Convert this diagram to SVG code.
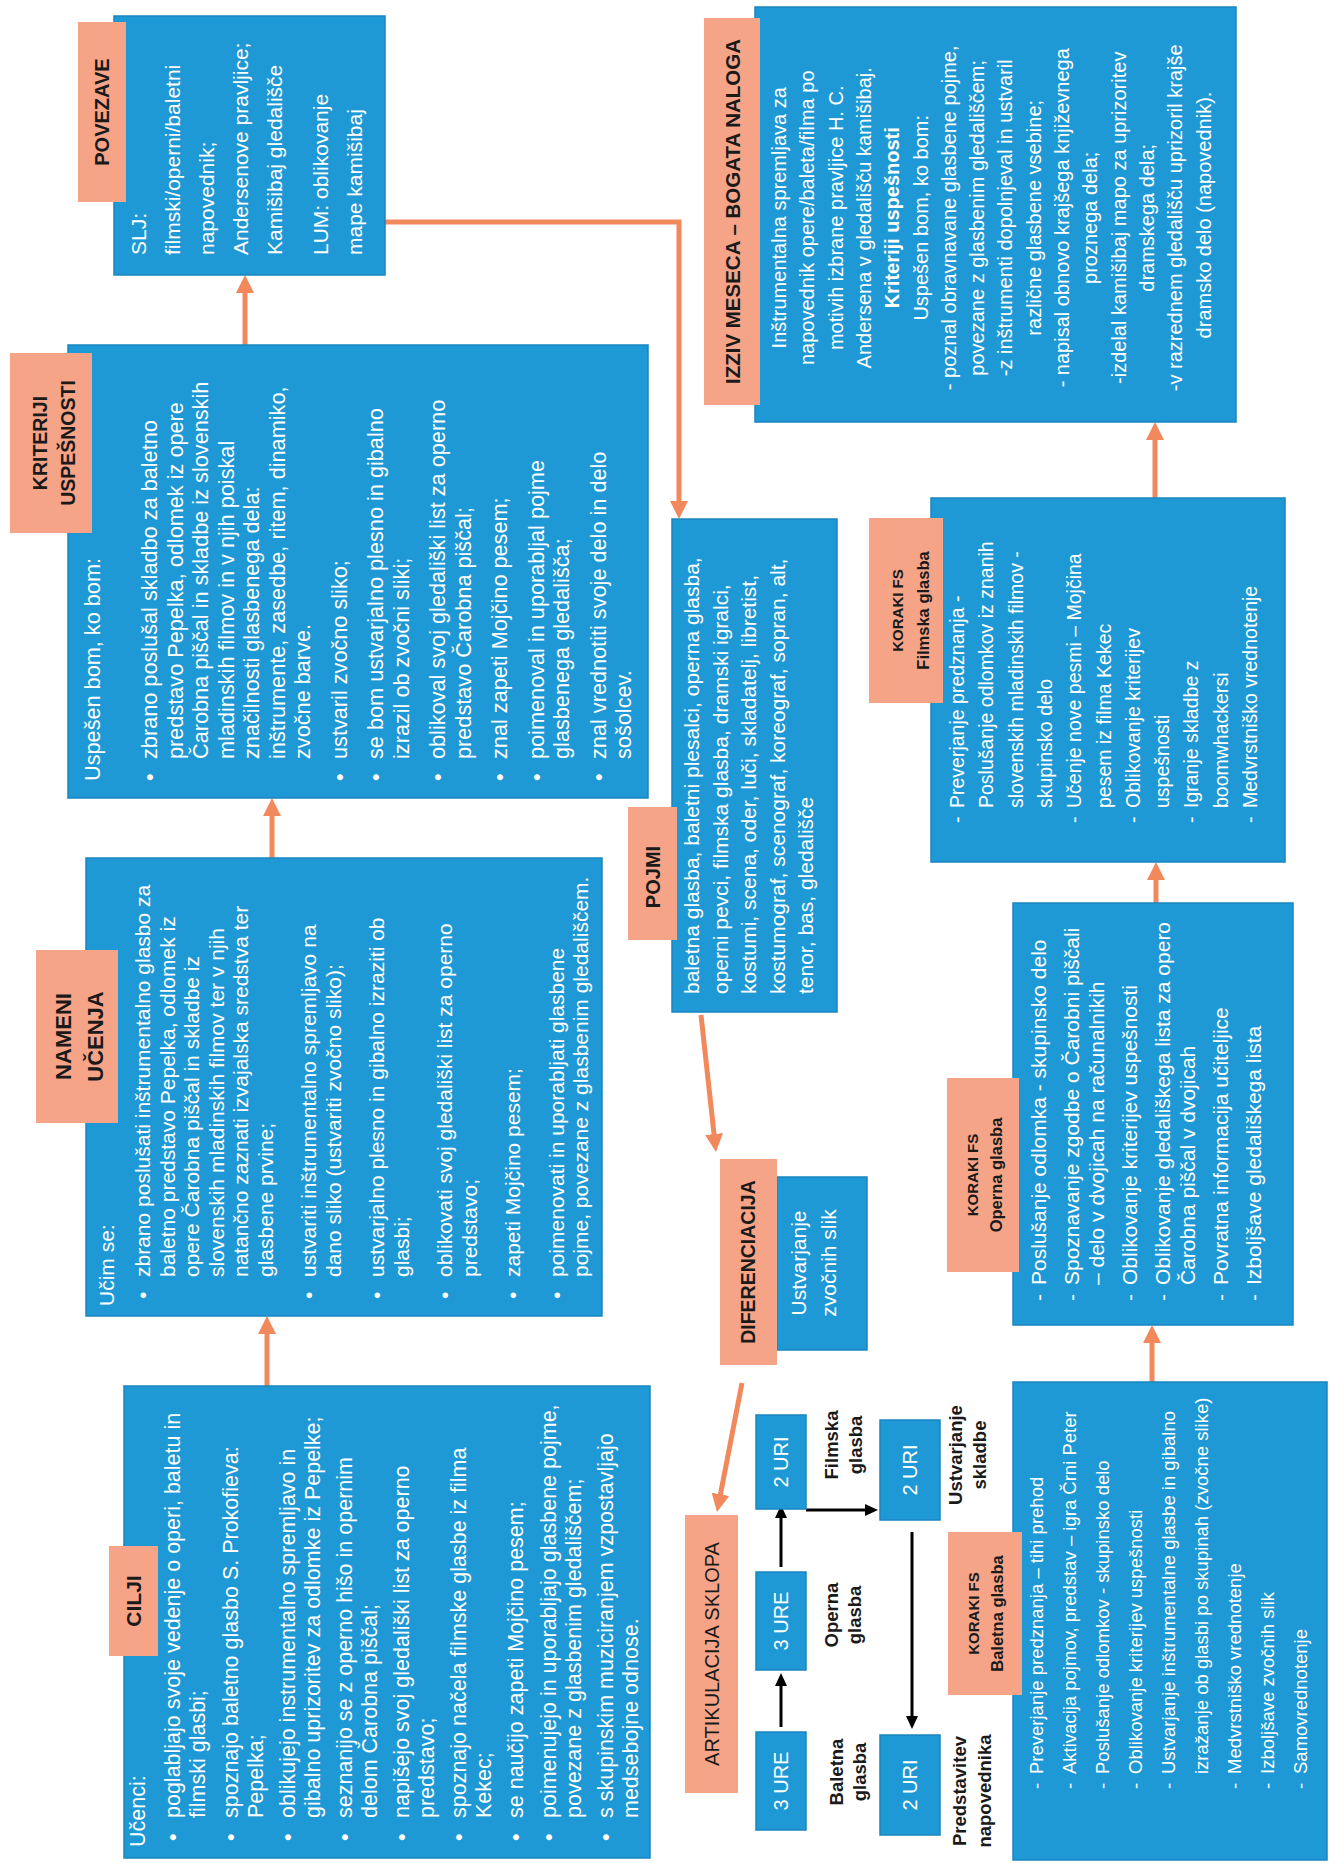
<svg xmlns="http://www.w3.org/2000/svg" width="1330" height="1863" viewBox="0 0 1330 1863">
<defs>
<style>
.box{fill:#1E99D5;stroke:#1A86C0;stroke-width:1.5}
.tab{fill:#F5A488}
.t{font-family:"Liberation Sans",Arial,sans-serif;fill:#ffffff}
.c{text-anchor:middle}
.lb{font-family:"Liberation Sans",Arial,sans-serif;font-weight:bold;fill:#1a1a1a;text-anchor:middle}
.lr{font-family:"Liberation Sans",Arial,sans-serif;fill:#1a1a1a;text-anchor:middle}
.oa{fill:none;stroke:#F1895C;stroke-width:5;marker-end:url(#ah)}
.ba{fill:none;stroke:#000;stroke-width:3;marker-end:url(#bh)}
</style>
<marker id="ah" markerUnits="userSpaceOnUse" markerWidth="20" markerHeight="20" viewBox="0 0 20 20" refX="6" refY="10" orient="auto"><path d="M0,1 L18,10 L0,19 Z" fill="#F1895C"/></marker>
<marker id="bh" markerUnits="userSpaceOnUse" markerWidth="14" markerHeight="14" viewBox="0 0 14 14" refX="4" refY="7" orient="auto"><path d="M0,1 L13,7 L0,13 Z" fill="#000"/></marker>
</defs>
<rect width="1330" height="1863" fill="#ffffff"/>
<g transform="translate(0,1863) rotate(-90)">

<g id="connectors">
<path class="oa" d="M477,267 L535,267"/>
<path class="oa" d="M1005,272 L1053,272"/>
<path class="oa" d="M1518,245 L1576,245"/>
<path class="oa" d="M1641,385 L1641,679 L1356,679"/>
<path class="oa" d="M848,701 L723,714.7"/>
<path class="oa" d="M480,742 L362.8,719.3"/>
<path class="oa" d="M481,1152 L526,1152"/>
<path class="oa" d="M960,1156 L989,1156"/>
<path class="oa" d="M1365,1155 L1429,1155"/>
<path class="ba" d="M136,781 L181,781"/>
<path class="ba" d="M296,781 L349,781"/>
<path class="ba" d="M353,806 L353,869"/>
<path class="ba" d="M331,912 L143,912"/>
</g>

<g id="cilji">
<rect class="box" x="5" y="124" width="472" height="526"/>
<rect class="tab" x="207" y="109" width="110" height="49"/>
<text class="lb" x="262" y="141" font-size="21">CILJI</text>
<text class="t" font-size="21.5">
<tspan x="16" y="145">Učenci:</tspan>
<tspan x="22" y="180">•</tspan><tspan x="45" y="180">poglabljajo svoje vedenje o operi, baletu in</tspan>
<tspan x="45" y="204.5">filmski glasbi;</tspan>
<tspan x="22" y="238">•</tspan><tspan x="45" y="238">spoznajo baletno glasbo S. Prokofieva:</tspan>
<tspan x="45" y="262.5">Pepelka;</tspan>
<tspan x="22" y="295">•</tspan><tspan x="45" y="295">oblikujejo instrumentalno spremljavo in</tspan>
<tspan x="45" y="319.5">gibalno uprizoritev za odlomke iz Pepelke;</tspan>
<tspan x="22" y="352">•</tspan><tspan x="45" y="352">seznanijo se z operno hišo in opernim</tspan>
<tspan x="45" y="376.5">delom Čarobna piščal;</tspan>
<tspan x="22" y="409">•</tspan><tspan x="45" y="409">napišejo svoj gledališki list za operno</tspan>
<tspan x="45" y="433.5">predstavo;</tspan>
<tspan x="22" y="466">•</tspan><tspan x="45" y="466">spoznajo načela filmske glasbe iz filma</tspan>
<tspan x="45" y="490.5">Kekec;</tspan>
<tspan x="22" y="523">•</tspan><tspan x="45" y="523">se naučijo zapeti Mojčino pesem;</tspan>
<tspan x="22" y="556">•</tspan><tspan x="45" y="556">poimenujejo in uporabljajo glasbene pojme,</tspan>
<tspan x="45" y="580.5">povezane z glasbenim gledališčem;</tspan>
<tspan x="22" y="613">•</tspan><tspan x="45" y="613">s skupinskim muziciranjem vzpostavljajo</tspan>
<tspan x="45" y="637.5">medsebojne odnose.</tspan>
</text>
</g>

<g id="nameni">
<rect class="box" x="547" y="86" width="458" height="516"/>
<rect class="tab" x="740" y="36" width="173" height="82"/>
<text class="lb" font-size="22"><tspan x="826.5" y="71">NAMENI</tspan><tspan x="826.5" y="103">UČENJA</tspan></text>
<text class="t" font-size="21">
<tspan x="557" y="114">Učim se:</tspan>
<tspan x="564" y="150">•</tspan><tspan x="586" y="150">zbrano poslušati inštrumentalno glasbo za</tspan>
<tspan x="586" y="174.5">baletno predstavo Pepelka, odlomek iz</tspan>
<tspan x="586" y="199">opere Čarobna piščal in skladbe iz</tspan>
<tspan x="586" y="223.5">slovenskih mladinskih filmov ter v njih</tspan>
<tspan x="586" y="248">natančno zaznati izvajalska sredstva ter</tspan>
<tspan x="586" y="272.5">glasbene prvine;</tspan>
<tspan x="564" y="316">•</tspan><tspan x="586" y="316">ustvariti inštrumentalno spremljavo na</tspan>
<tspan x="586" y="340.5">dano sliko (ustvariti zvočno sliko);</tspan>
<tspan x="564" y="384">•</tspan><tspan x="586" y="384">ustvarjalno plesno in gibalno izraziti ob</tspan>
<tspan x="586" y="408.5">glasbi;</tspan>
<tspan x="564" y="452">•</tspan><tspan x="586" y="452">oblikovati svoj gledališki list za operno</tspan>
<tspan x="586" y="476.5">predstavo;</tspan>
<tspan x="564" y="520">•</tspan><tspan x="586" y="520">zapeti Mojčino pesem;</tspan>
<tspan x="564" y="563.5">•</tspan><tspan x="586" y="563.5">poimenovati in uporabljati glasbene</tspan>
<tspan x="586" y="588">pojme, povezane z glasbenim gledališčem.</tspan>
</text>
</g>

<g id="kriteriji">
<rect class="box" x="1065" y="68" width="453" height="580"/>
<rect class="tab" x="1330" y="10" width="180" height="82"/>
<text class="lb" font-size="19.5"><tspan x="1420" y="47">KRITERIJI</tspan><tspan x="1420" y="75">USPEŠNOSTI</tspan></text>
<text class="t" font-size="21.7">
<tspan x="1082" y="100">Uspešen bom, ko bom:</tspan>
<tspan x="1082" y="157">•</tspan><tspan x="1104" y="157">zbrano poslušal skladbo za baletno</tspan>
<tspan x="1104" y="182.5">predstavo Pepelka, odlomek iz opere</tspan>
<tspan x="1104" y="208">Čarobna piščal in skladbe iz slovenskih</tspan>
<tspan x="1104" y="233.5">mladinskih filmov in v njih poiskal</tspan>
<tspan x="1104" y="259">značilnosti glasbenega dela:</tspan>
<tspan x="1104" y="284.5">inštrumente, zasedbe, ritem, dinamiko,</tspan>
<tspan x="1104" y="310">zvočne barve.</tspan>
<tspan x="1082" y="346.5">•</tspan><tspan x="1104" y="346.5">ustvaril zvočno sliko;</tspan>
<tspan x="1082" y="383">•</tspan><tspan x="1104" y="383">se bom ustvarjalno plesno in gibalno</tspan>
<tspan x="1104" y="408.5">izrazil ob zvočni sliki;</tspan>
<tspan x="1082" y="445">•</tspan><tspan x="1104" y="445">oblikoval svoj gledališki list za operno</tspan>
<tspan x="1104" y="470.5">predstavo Čarobna piščal;</tspan>
<tspan x="1082" y="507">•</tspan><tspan x="1104" y="507">znal zapeti Mojčino pesem;</tspan>
<tspan x="1082" y="543.5">•</tspan><tspan x="1104" y="543.5">poimenoval in uporabljal pojme</tspan>
<tspan x="1104" y="569">glasbenega gledališča;</tspan>
<tspan x="1082" y="605.5">•</tspan><tspan x="1104" y="605.5">znal vrednotiti svoje delo in delo</tspan>
<tspan x="1104" y="631">sošolcev.</tspan>
</text>
</g>

<g id="povezave">
<rect class="box" x="1588" y="114" width="259" height="271"/>
<rect class="tab" x="1661" y="78" width="180" height="48"/>
<text class="lb" x="1751" y="109" font-size="20">POVEZAVE</text>
<text class="t" font-size="21">
<tspan x="1608" y="146">SLJ:</tspan>
<tspan x="1608" y="180">filmski/operni/baletni</tspan>
<tspan x="1608" y="214">napovednik;</tspan>
<tspan x="1608" y="248">Andersenove pravljice;</tspan>
<tspan x="1608" y="282">Kamišibaj gledališče</tspan>
<tspan x="1608" y="328">LUM: oblikovanje</tspan>
<tspan x="1608" y="362">mape kamišibaj</tspan>
</text>
</g>

<g id="pojmi">
<rect class="box" x="851" y="672" width="493" height="165"/>
<rect class="tab" x="923" y="628" width="133" height="49"/>
<text class="lb" x="986" y="660" font-size="20">POJMI</text>
<text class="t" font-size="21">
<tspan x="869" y="699">baletna glasba, baletni plesalci, operna glasba,</tspan>
<tspan x="869" y="727.5">operni pevci, filmska glasba, dramski igralci,</tspan>
<tspan x="869" y="756">kostumi, scena, oder, luči, skladatelj, libretist,</tspan>
<tspan x="869" y="784.5">kostumograf, scenograf, koreograf, sopran, alt,</tspan>
<tspan x="869" y="813">tenor, bas, gledališče</tspan>
</text>
</g>

<g id="izziv">
<rect class="box" x="1441" y="755" width="415" height="481"/>
<rect class="tab" x="1458" y="704" width="387" height="56"/>
<text class="lb" x="1651.5" y="739.5" font-size="20.5">IZZIV MESECA – BOGATA NALOGA</text>
<text class="t c" font-size="20">
<tspan x="1648" y="786">Inštrumentalna spremljava za</tspan>
<tspan x="1648" y="814">napovednik opere/baleta/filma po</tspan>
<tspan x="1648" y="843">motivih izbrane pravljice H. C.</tspan>
<tspan x="1648" y="871">Andersena v gledališču kamišibaj.</tspan>
<tspan x="1648" y="899" font-weight="bold">Kriteriji uspešnosti</tspan>
<tspan x="1648" y="928">Uspešen bom, ko bom:</tspan>
<tspan x="1648" y="956">- poznal obravnavane glasbene pojme,</tspan>
<tspan x="1648" y="984">povezane z glasbenim gledališčem;</tspan>
<tspan x="1648" y="1012">-z inštrumenti dopolnjeval in ustvaril</tspan>
<tspan x="1648" y="1041">različne glasbene vsebine;</tspan>
<tspan x="1648" y="1069">- napisal obnovo krajšega književnega</tspan>
<tspan x="1648" y="1097">proznega dela;</tspan>
<tspan x="1648" y="1126">-izdelal kamišibaj mapo za uprizoritev</tspan>
<tspan x="1648" y="1154">dramskega dela;</tspan>
<tspan x="1648" y="1182">-v razrednem gledališču uprizoril krajše</tspan>
<tspan x="1648" y="1211">dramsko delo (napovednik).</tspan>
</text>
</g>

<g id="diferenciacija">
<rect class="box" x="513" y="777" width="173" height="90"/>
<rect class="tab" x="498" y="720" width="206" height="57"/>
<text class="lb" x="601" y="755" font-size="19.5">DIFERENCIACIJA</text>
<text class="t c" font-size="21"><tspan x="600" y="806">Ustvarjanje</tspan><tspan x="600" y="836">zvočnih slik</tspan></text>
</g>

<g id="artikulacija">
<rect class="tab" x="70" y="685" width="278" height="53"/>
<text class="lr" x="209" y="718.5" font-size="20">ARTIKULACIJA SKLOPA</text>
</g>

<g id="ure-baletna">
<rect class="box" x="33" y="756" width="98" height="50"/>
<text class="t c" x="82" y="788" font-size="20">3 URE</text>
<text class="lb" font-size="18.5"><tspan x="91" y="843">Baletna</tspan><tspan x="91" y="866">glasba</tspan></text>
</g>
<g id="ure-operna">
<rect class="box" x="193" y="756" width="98" height="50"/>
<text class="t c" x="242" y="788" font-size="20">3 URE</text>
<text class="lb" font-size="18.5"><tspan x="248" y="838">Operna</tspan><tspan x="248" y="861">glasba</tspan></text>
</g>
<g id="uri-filmska">
<rect class="box" x="354" y="756" width="94" height="50"/>
<text class="t c" x="401" y="788" font-size="20">2 URI</text>
<text class="lb" font-size="18.5"><tspan x="418" y="838">Filmska</tspan><tspan x="418" y="862">glasba</tspan></text>
</g>
<g id="uri-ustvarjanje">
<rect class="box" x="343" y="880" width="100" height="60"/>
<text class="t c" x="393" y="917" font-size="20">2 URI</text>
<text class="lb" font-size="18.5"><tspan x="408" y="962">Ustvarjanje</tspan><tspan x="408" y="986">skladbe</tspan></text>
</g>
<g id="uri-predstavitev">
<rect class="box" x="28" y="880" width="100" height="60"/>
<text class="t c" x="78" y="917" font-size="20">2 URI</text>
<text class="lb" font-size="18.5"><tspan x="72" y="966">Predstavitev</tspan><tspan x="72" y="991">napovednika</tspan></text>
</g>

<g id="koraki-baletna">
<rect class="box" x="3" y="1013" width="478" height="314"/>
<rect class="tab" x="168" y="948" width="163" height="74"/>
<text class="lb"><tspan x="249.5" y="979" font-size="15">KORAKI FS</tspan><tspan x="249.5" y="1003" font-size="16.5">Baletna glasba</tspan></text>
<text class="t" font-size="18.5">
<tspan x="74" y="1043">-</tspan><tspan x="89" y="1043">Preverjanje predznanja – tihi prehod</tspan>
<tspan x="74" y="1076">-</tspan><tspan x="89" y="1076">Aktivacija pojmov, predstav – igra Črni Peter</tspan>
<tspan x="74" y="1109">-</tspan><tspan x="89" y="1109">Poslušanje odlomkov - skupinsko delo</tspan>
<tspan x="74" y="1142">-</tspan><tspan x="89" y="1142">Oblikovanje kriterijev uspešnosti</tspan>
<tspan x="74" y="1175">-</tspan><tspan x="89" y="1175">Ustvarjanje inštrumentalne glasbe in gibalno</tspan>
<tspan x="89" y="1208">izražanje ob glasbi po skupinah (zvočne slike)</tspan>
<tspan x="74" y="1241">-</tspan><tspan x="89" y="1241">Medvrstniško vrednotenje</tspan>
<tspan x="74" y="1274">-</tspan><tspan x="89" y="1274">Izboljšave zvočnih slik</tspan>
<tspan x="74" y="1307">-</tspan><tspan x="89" y="1307">Samovrednotenje</tspan>
</text>
</g>

<g id="koraki-operna">
<rect class="box" x="538" y="1013" width="422" height="280"/>
<rect class="tab" x="591" y="947" width="194" height="72"/>
<text class="lb"><tspan x="688" y="978" font-size="15">KORAKI FS</tspan><tspan x="688" y="1002" font-size="16.5">Operna glasba</tspan></text>
<text class="t" font-size="21">
<tspan x="562" y="1046">-</tspan><tspan x="578" y="1046">Poslušanje odlomka - skupinsko delo</tspan>
<tspan x="562" y="1079">-</tspan><tspan x="578" y="1079">Spoznavanje zgodbe o Čarobni piščali</tspan>
<tspan x="578" y="1104">– delo v dvojicah na računalnikih</tspan>
<tspan x="562" y="1137">-</tspan><tspan x="578" y="1137">Oblikovanje kriterijev uspešnosti</tspan>
<tspan x="562" y="1170">-</tspan><tspan x="578" y="1170">Oblikovanje gledališkega lista za opero</tspan>
<tspan x="578" y="1195">Čarobna piščal v dvojicah</tspan>
<tspan x="562" y="1228">-</tspan><tspan x="578" y="1228">Povratna informacija učiteljice</tspan>
<tspan x="562" y="1261">-</tspan><tspan x="578" y="1261">Izboljšave gledališkega lista</tspan>
</text>
</g>

<g id="koraki-filmska">
<rect class="box" x="1001" y="931" width="364" height="354"/>
<rect class="tab" x="1160" y="869" width="185" height="74"/>
<text class="lb"><tspan x="1252.5" y="903" font-size="15">KORAKI FS</tspan><tspan x="1252.5" y="929" font-size="16.5">Filmska glasba</tspan></text>
<text class="t" font-size="19.5">
<tspan x="1040" y="964">-</tspan><tspan x="1055" y="964">Preverjanje predznanja -</tspan>
<tspan x="1055" y="993.3">Poslušanje odlomkov iz znanih</tspan>
<tspan x="1055" y="1022.6">slovenskih mladinskih filmov -</tspan>
<tspan x="1055" y="1051.9">skupinsko delo</tspan>
<tspan x="1040" y="1081.2">-</tspan><tspan x="1055" y="1081.2">Učenje nove pesmi – Mojčina</tspan>
<tspan x="1055" y="1110.5">pesem iz filma Kekec</tspan>
<tspan x="1040" y="1139.8">-</tspan><tspan x="1055" y="1139.8">Oblikovanje kriterijev</tspan>
<tspan x="1055" y="1169.1">uspešnosti</tspan>
<tspan x="1040" y="1198.4">-</tspan><tspan x="1055" y="1198.4">Igranje skladbe z</tspan>
<tspan x="1055" y="1227.7">boomwhackersi</tspan>
<tspan x="1040" y="1257">-</tspan><tspan x="1055" y="1257">Medvrstniško vrednotenje</tspan>
</text>
</g>

</g>
</svg>
